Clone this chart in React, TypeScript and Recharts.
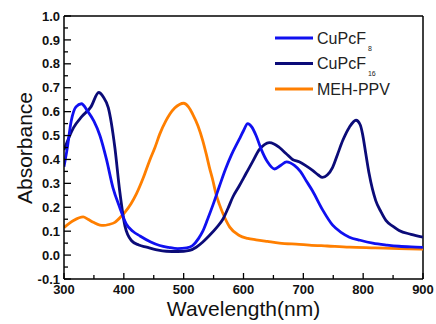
import React from 'react';
import { LineChart, Line, XAxis, YAxis, ReferenceLine, Label } from 'recharts';

// wavelength (nm) / absorbance
const cupcf8Wavelength = [300, 305, 312, 320, 329, 340, 350, 360, 371, 382, 393, 404, 415, 427, 445, 460, 475, 490, 505, 515, 525, 532, 540, 549, 560, 570, 580, 593, 600, 607, 614, 621, 630, 640, 652, 662, 672, 685, 695, 705, 715, 732, 749, 763, 777, 795, 816, 840, 860, 880, 900];
const cupcf8Absorbance = [0.37, 0.44, 0.56, 0.62, 0.633, 0.6, 0.56, 0.5, 0.4, 0.28, 0.2, 0.13, 0.1, 0.08, 0.055, 0.04, 0.032, 0.027, 0.03, 0.04, 0.07, 0.1, 0.15, 0.21, 0.29, 0.36, 0.42, 0.485, 0.52, 0.55, 0.535, 0.5, 0.44, 0.39, 0.36, 0.375, 0.39, 0.375, 0.35, 0.31, 0.27, 0.19, 0.125, 0.095, 0.075, 0.062, 0.05, 0.042, 0.037, 0.034, 0.032];

const cupcf16Wavelength = [300, 316, 330, 345, 358, 366, 374, 385, 393, 402, 413, 425, 438, 455, 471, 490, 510, 521, 532, 543, 555, 566, 574, 582, 593, 604, 615, 627, 635, 643, 651, 660, 671, 682, 693, 704, 716, 725, 732, 740, 749, 757, 766, 777, 788, 795, 799, 804, 810, 821, 830, 838, 850, 860, 880, 900];
const cupcf16Absorbance = [0.44, 0.533, 0.58, 0.62, 0.68, 0.66, 0.617, 0.45, 0.27, 0.12, 0.06, 0.042, 0.033, 0.022, 0.016, 0.015, 0.02, 0.033, 0.055, 0.082, 0.115, 0.152, 0.195, 0.242, 0.29, 0.34, 0.39, 0.443, 0.462, 0.47, 0.465, 0.45, 0.425, 0.4, 0.39, 0.374, 0.353, 0.335, 0.325, 0.335, 0.367, 0.42, 0.48, 0.535, 0.564, 0.545, 0.506, 0.43, 0.34, 0.228, 0.18, 0.145, 0.12, 0.103, 0.087, 0.075];

const mehPpvWavelength = [300, 316, 332, 340, 349, 360, 366, 375, 385, 395, 402, 412, 421, 432, 443, 452, 460, 470, 477, 485, 493, 500, 508, 515, 524, 532, 538, 543, 549, 554, 560, 566, 577, 593, 607, 621, 640, 660, 693, 710, 740, 777, 820, 860, 900];
const mehPpvAbsorbance = [0.115, 0.145, 0.16, 0.15, 0.137, 0.125, 0.124, 0.128, 0.137, 0.16, 0.18, 0.215, 0.256, 0.32, 0.395, 0.45, 0.506, 0.56, 0.59, 0.615, 0.63, 0.635, 0.62, 0.59, 0.54, 0.478, 0.42, 0.367, 0.31, 0.256, 0.21, 0.172, 0.117, 0.082, 0.07, 0.064, 0.057, 0.05, 0.045, 0.042, 0.038, 0.033, 0.03, 0.027, 0.025];

const xTicks = [300, 350, 400, 450, 500, 550, 600, 650, 700, 750, 800, 850, 900];
const yTicks = [-0.1, -0.05, 0, 0.05, 0.1, 0.15, 0.2, 0.25, 0.3, 0.35, 0.4, 0.45, 0.5, 0.55, 0.6, 0.65, 0.7, 0.75, 0.8, 0.85, 0.9, 0.95, 1.0];

const toPoints = (wl: number[], ab: number[]) => wl.map((w, i) => ({ wl: w, abs: ab[i] }));

const FONT = '"Liberation Sans", Arial, sans-serif';
const BLUE = '#1010f0';
const NAVY = '#0b0b78';
const ORANGE = '#ff7f00';

const YTick = (props: any) => {
    const { x, y, payload } = props;
    const v = payload.value;
    const major = Math.round(v * 100) % 10 === 0;
    return (
        <g>
            <line x1={x + 4} x2={x + 4 + (major ? 7 : 4)} y1={y} y2={y} stroke="#000" strokeWidth={1.3} />
            {major && (
                <text x={x} y={y} dy="0.36em" textAnchor="end" fontFamily={FONT} fontSize={13} fontWeight="bold" fill="#111">
                    {v.toFixed(1)}
                </text>
            )}
        </g>
    );
};

const XTick = (props: any) => {
    const { x, y, payload } = props;
    const v = payload.value;
    const major = v % 100 === 0;
    return (
        <g>
            <line x1={x} x2={x} y1={y - 4} y2={y - 4 - (major ? 6 : 4)} stroke="#000" strokeWidth={1.3} />
            {major && (
                <text x={x} y={y + 11} textAnchor="middle" fontFamily={FONT} fontSize={13} fontWeight="bold" fill="#111">
                    {v}
                </text>
            )}
        </g>
    );
};

const legendRows = [
    { color: BLUE, name: 'CuPcF', sub: '8' },
    { color: NAVY, name: 'CuPcF', sub: '16' },
    { color: ORANGE, name: 'MEH-PPV', sub: '' },
];

// drawn on top of the chart so it does not take space from the plot
const LegendBox = () => (
    <svg width={150} height={80} style={{ position: 'absolute', left: 275, top: 25 }}>
        {legendRows.map((r, i) => {
            const y = 13 + i * 25.5;
            return (
                <g key={i}>
                    <line x1={0} x2={38} y1={y} y2={y} stroke={r.color} strokeWidth={2.8} />
                    <text x={42} y={y + 5.5} fontFamily={FONT} fontSize={16} fill="#222">
                        {r.name}
                        {r.sub && (
                            <tspan fontSize={7} dx={2} dy={7}>{r.sub}</tspan>
                        )}
                    </text>
                </g>
            );
        })}
    </svg>
);

const App: React.FC = () => {
    return (
        <div style={{ position: 'absolute', left: 0, top: 0, width: 436, height: 324, background: '#fff' }}>
            <LineChart width={436} height={324} margin={{ top: 16, right: 13, left: 0, bottom: 0 }}>
                <XAxis
                    dataKey="wl"
                    type="number"
                    domain={[300, 900]}
                    ticks={xTicks}
                    interval={0}
                    height={45}
                    tickSize={0}
                    tickMargin={4}
                    tick={<XTick />}
                    axisLine={{ stroke: '#000', strokeWidth: 1.5 }}
                    allowDataOverflow
                >
                    <Label
                        content={() => (
                            <text x={243.5} y={316} textAnchor="middle" fontFamily={FONT} fontSize={21} fill="#111">
                                Wavelength(nm)
                            </text>
                        )}
                    />
                </XAxis>
                <YAxis
                    type="number"
                    domain={[-0.1, 1.0]}
                    ticks={yTicks}
                    interval={0}
                    width={64}
                    tickSize={0}
                    tickMargin={4}
                    tick={<YTick />}
                    axisLine={{ stroke: '#000', strokeWidth: 1.5 }}
                    allowDataOverflow
                >
                    <Label
                        content={() => (
                            <text x={24} y={148} transform="rotate(-90 24 148)" textAnchor="middle" dominantBaseline="central" fontFamily={FONT} fontSize={21} fill="#111">
                                Absorbance
                            </text>
                        )}
                    />
                </YAxis>
                <ReferenceLine y={1.0} stroke="#000" strokeWidth={1.5} />
                <ReferenceLine x={900} stroke="#000" strokeWidth={1.5} />
                <Line data={toPoints(mehPpvWavelength, mehPpvAbsorbance)} dataKey="abs" type="monotone" stroke={ORANGE} strokeWidth={2.8} dot={false} isAnimationActive={false} />
                <Line data={toPoints(cupcf16Wavelength, cupcf16Absorbance)} dataKey="abs" type="monotone" stroke={NAVY} strokeWidth={2.8} dot={false} isAnimationActive={false} />
                <Line data={toPoints(cupcf8Wavelength, cupcf8Absorbance)} dataKey="abs" type="monotone" stroke={BLUE} strokeWidth={2.8} dot={false} isAnimationActive={false} />
            </LineChart>
            <LegendBox />
        </div>
    );
};

export default App;
